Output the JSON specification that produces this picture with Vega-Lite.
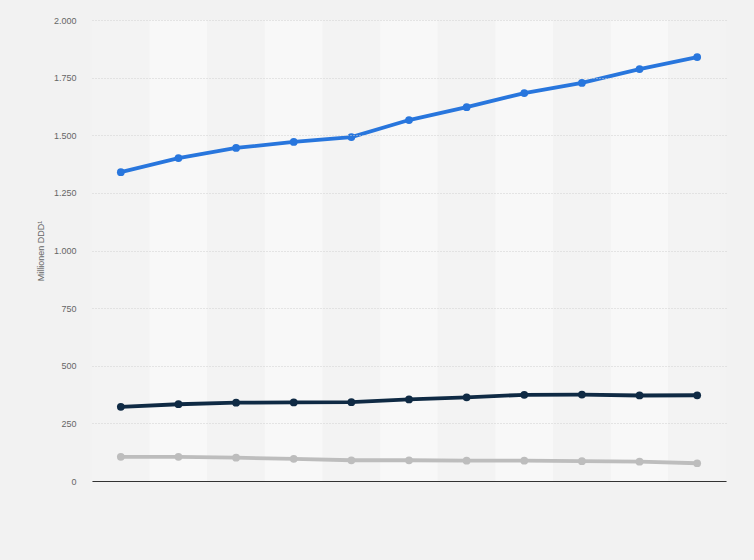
{
  "$schema": "https://vega.github.io/schema/vega-lite/v6.json",
  "width": 634,
  "height": 461,
  "autosize": {"type": "none"},
  "padding": {"left": 92, "top": 20, "right": 28, "bottom": 79},
  "background": "#f2f2f2",
  "config": {
    "view": {"stroke": null, "fill": "#f3f3f3"},
    "font": "Liberation Sans"
  },
  "datasets": {
    "series": [
      {"jahr": "2008", "gruppe": "A", "wert": 1340},
      {"jahr": "2009", "gruppe": "A", "wert": 1401},
      {"jahr": "2010", "gruppe": "A", "wert": 1445},
      {"jahr": "2011", "gruppe": "A", "wert": 1471},
      {"jahr": "2012", "gruppe": "A", "wert": 1492},
      {"jahr": "2013", "gruppe": "A", "wert": 1566},
      {"jahr": "2014", "gruppe": "A", "wert": 1622},
      {"jahr": "2015", "gruppe": "A", "wert": 1683},
      {"jahr": "2016", "gruppe": "A", "wert": 1727},
      {"jahr": "2017", "gruppe": "A", "wert": 1787},
      {"jahr": "2018", "gruppe": "A", "wert": 1839},
      {"jahr": "2008", "gruppe": "B", "wert": 322},
      {"jahr": "2009", "gruppe": "B", "wert": 333},
      {"jahr": "2010", "gruppe": "B", "wert": 340},
      {"jahr": "2011", "gruppe": "B", "wert": 341},
      {"jahr": "2012", "gruppe": "B", "wert": 342},
      {"jahr": "2013", "gruppe": "B", "wert": 354},
      {"jahr": "2014", "gruppe": "B", "wert": 363},
      {"jahr": "2015", "gruppe": "B", "wert": 374},
      {"jahr": "2016", "gruppe": "B", "wert": 375},
      {"jahr": "2017", "gruppe": "B", "wert": 371},
      {"jahr": "2018", "gruppe": "B", "wert": 372},
      {"jahr": "2008", "gruppe": "C", "wert": 105},
      {"jahr": "2009", "gruppe": "C", "wert": 105},
      {"jahr": "2010", "gruppe": "C", "wert": 101},
      {"jahr": "2011", "gruppe": "C", "wert": 96},
      {"jahr": "2012", "gruppe": "C", "wert": 90},
      {"jahr": "2013", "gruppe": "C", "wert": 90},
      {"jahr": "2014", "gruppe": "C", "wert": 88},
      {"jahr": "2015", "gruppe": "C", "wert": 88},
      {"jahr": "2016", "gruppe": "C", "wert": 86},
      {"jahr": "2017", "gruppe": "C", "wert": 84},
      {"jahr": "2018", "gruppe": "C", "wert": 77}
    ],
    "jahre": [
      {"jahr": "2008"}, {"jahr": "2009"}, {"jahr": "2010"}, {"jahr": "2011"},
      {"jahr": "2012"}, {"jahr": "2013"}, {"jahr": "2014"}, {"jahr": "2015"},
      {"jahr": "2016"}, {"jahr": "2017"}, {"jahr": "2018"}
    ]
  },
  "resolve": {"scale": {"color": "independent"}},
  "layer": [
    {
      "data": {"name": "jahre"},
      "transform": [
        {"window": [{"op": "row_number", "as": "idx"}]},
        {"calculate": "datum.idx % 2", "as": "odd"}
      ],
      "mark": {"type": "rect", "zindex": 0},
      "encoding": {
        "x": {
          "field": "jahr", "type": "ordinal",
          "scale": {"type": "band", "paddingInner": 0, "paddingOuter": 0},
          "axis": {
            "title": null, "labels": false, "ticks": false, "zindex": 1,
            "domain": true, "domainColor": "#333333", "domainWidth": 1, "grid": false
          }
        },
        "color": {
          "field": "odd", "type": "nominal",
          "scale": {"domain": [1, 0], "range": ["#f3f3f3", "#f8f8f8"]},
          "legend": null
        }
      }
    },
    {
      "data": {"name": "series"},
      "encoding": {
        "x": {
          "field": "jahr", "type": "ordinal",
          "scale": {"type": "band", "paddingInner": 0, "paddingOuter": 0}
        },
        "y": {
          "field": "wert", "type": "quantitative",
          "scale": {"domain": [0, 2000], "nice": false},
          "axis": {
            "title": "Millionen DDD¹", "zindex": 1,
            "titleFontSize": 9, "titleFontWeight": "normal", "titleColor": "#666666",
            "titlePadding": 8,
            "values": [0, 250, 500, 750, 1000, 1250, 1500, 1750, 2000],
            "labelExpr": "replace(format(datum.value, ','), ',', '.')",
            "labelFontSize": 9, "labelColor": "#666666", "labelPadding": 16,
            "ticks": false, "domain": false,
            "grid": true, "gridColor": "#d0d0d0", "gridDash": [1, 2], "gridWidth": 1
          }
        },
        "color": {
          "field": "gruppe", "type": "nominal",
          "scale": {"domain": ["A", "B", "C"], "range": ["#2876dd", "#0f2a44", "#bdbdbd"]},
          "legend": null
        }
      },
      "layer": [
        {"mark": {"type": "line", "strokeWidth": 3.8, "zindex": 2}},
        {"mark": {"type": "point", "filled": true, "opacity": 1, "size": 60, "zindex": 2}}
      ]
    }
  ]
}
